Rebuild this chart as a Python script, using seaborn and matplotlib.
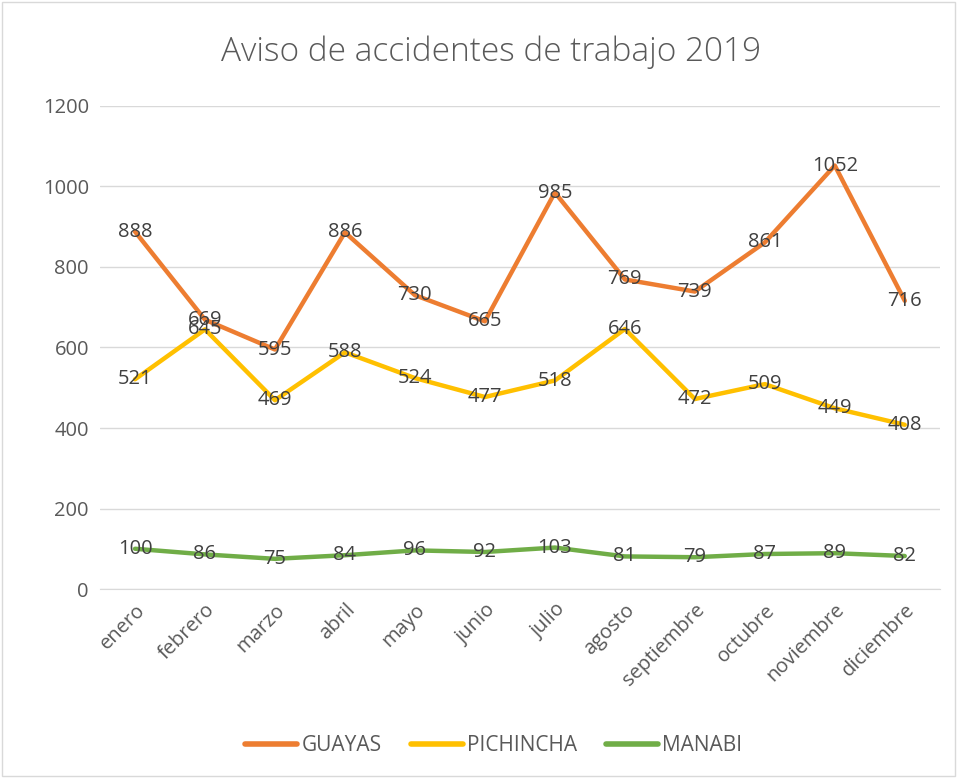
import pandas as pd
import matplotlib.pyplot as plt
import seaborn as sns

meses = ['enero', 'febrero', 'marzo', 'abril', 'mayo', 'junio', 'julio',
         'agosto', 'septiembre', 'octubre', 'noviembre', 'diciembre']
guayas = [888, 669, 595, 886, 730, 665, 985, 769, 739, 861, 1052, 716]
pichincha = [521, 645, 469, 588, 524, 477, 518, 646, 472, 509, 449, 408]
manabi = [100, 86, 75, 84, 96, 92, 103, 81, 79, 87, 89, 82]

series = {'GUAYAS': guayas, 'PICHINCHA': pichincha, 'MANABI': manabi}
colores = {'GUAYAS': '#ED7D31', 'PICHINCHA': '#FFC000', 'MANABI': '#70AD47'}

# long format for seaborn
rows = []
for nombre, vals in series.items():
    for i, v in enumerate(vals):
        rows.append({'pos': i, 'mes': meses[i], 'provincia': nombre, 'valor': v})
df = pd.DataFrame(rows)

sns.set_style('white')
plt.rcParams['font.family'] = ['Open Sans', 'DejaVu Sans']

fig = plt.figure(figsize=(9.57, 7.78), dpi=100)
ax = fig.add_axes([0.1045, 0.2429, 0.8775, 0.6209])

sns.lineplot(data=df, x='pos', y='valor', hue='provincia', palette=colores,
             linewidth=3.2, ax=ax, legend=False, solid_capstyle='round')

# data labels centered on the points
for nombre, vals in series.items():
    for i, v in enumerate(vals):
        ax.text(i, v, str(v), ha='center', va='center', fontsize=14.5, color='#404040')

ax.set_xlim(-0.5, 11.5)
ax.set_ylim(0, 1200)
ax.set_yticks(range(0, 1201, 200))
ax.set_xticks(range(12))
ax.set_xticklabels(meses, rotation=45, ha='right', rotation_mode='anchor')
ax.tick_params(axis='both', labelsize=14.5, colors='#595959', length=0, pad=8)
ax.grid(axis='y', color='#D9D9D9', linewidth=1)
ax.set_axisbelow(True)
for s in ['top', 'right', 'left']:
    ax.spines[s].set_visible(False)
ax.spines['bottom'].set_color('#D9D9D9')
ax.set_xlabel('')
ax.set_ylabel('')

fig.text(0.513, 0.933, 'Aviso de accidentes de trabajo 2019', ha='center', va='center',
         fontsize=24, color='#595959', fontweight='light')

handles = [plt.Line2D([0], [0], color=colores[n], linewidth=4, solid_capstyle='round')
           for n in series]
fig.legend(handles, list(series.keys()), loc='center', bbox_to_anchor=(0.516, 0.042),
           ncol=3, frameon=False, fontsize=15, labelcolor='#595959',
           handlelength=2.5, handletextpad=0.2, columnspacing=1.4)

# outer chart border
fig.patches.append(plt.Rectangle((0.002, 0.002), 0.996, 0.996, transform=fig.transFigure,
                                 fill=False, edgecolor='#D9D9D9', linewidth=1))

fig.savefig('out.png', dpi=100)
